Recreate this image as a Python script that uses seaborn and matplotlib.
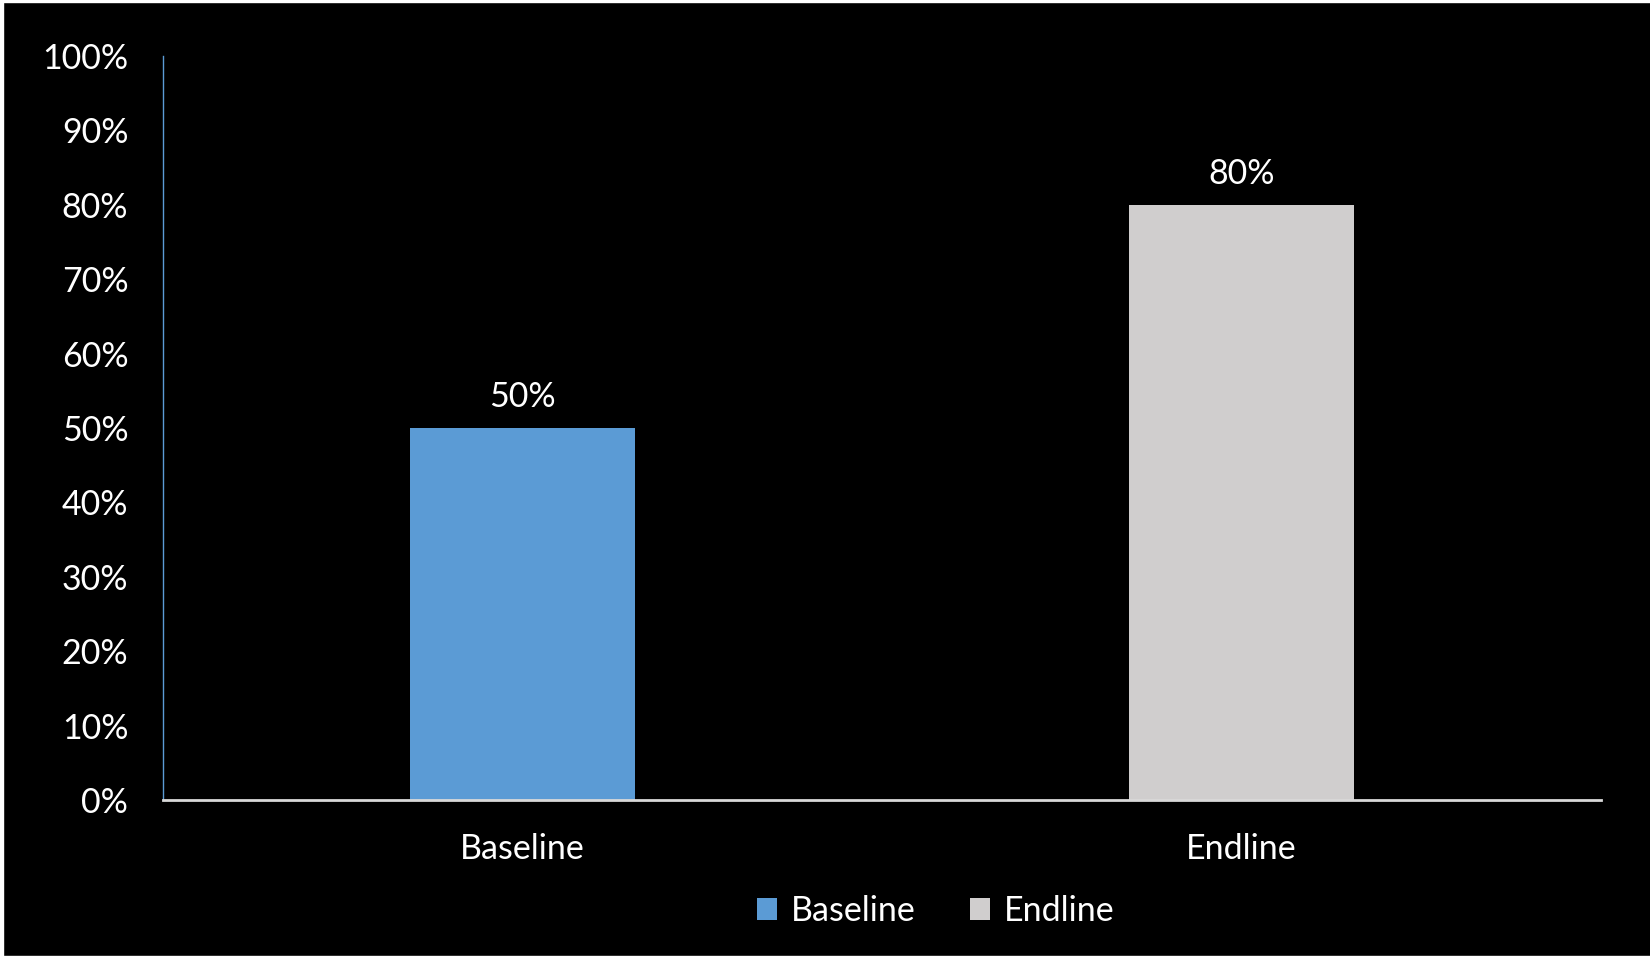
import matplotlib
matplotlib.use('Agg')
import matplotlib.pyplot as plt
import seaborn as sns
import pandas as pd
from matplotlib.patches import Patch, Rectangle
from matplotlib.ticker import PercentFormatter

# data
categories = ['Baseline', 'Endline']
values = [50, 80]
bar_colors = ['#5B9BD5', '#D0CECE']
y_ticks = [0, 10, 20, 30, 40, 50, 60, 70, 80, 90, 100]

df = pd.DataFrame({'kategori': categories, 'nilai': values})

sns.set_style('dark')
plt.rcParams['font.family'] = ['Lato', 'DejaVu Sans']

fig = plt.figure(figsize=(16.5, 9.58), dpi=100)
fig.patch.set_facecolor('black')
ax = fig.add_axes([0.0988, 0.1649, 0.8715, 0.7766])
ax.set_facecolor('black')

sns.barplot(data=df, x='kategori', y='nilai', hue='kategori',
            palette=bar_colors, width=0.314, legend=False, ax=ax,
            saturation=1, edgecolor='none', linewidth=0)

ax.set_ylim(0, 100)
ax.set_yticks(y_ticks)
ax.yaxis.set_major_formatter(PercentFormatter(decimals=0))
ax.set_xlabel('')
ax.set_ylabel('')
ax.grid(False)
ax.tick_params(axis='y', length=0, pad=25, labelsize=24.5, labelcolor='white')
ax.tick_params(axis='x', length=0, pad=24, labelsize=24.5, labelcolor='white')

for s in ['top', 'right']:
    ax.spines[s].set_visible(False)
ax.spines['left'].set_color('#5B9BD5')
ax.spines['left'].set_linewidth(1)
ax.spines['bottom'].set_color('#D9D9D9')
ax.spines['bottom'].set_linewidth(2)

# label angka di atas batang
for p in ax.patches:
    h = p.get_height()
    ax.annotate(f'{h:.0f}%', (p.get_x() + p.get_width() / 2, h),
                xytext=(0, 11), textcoords='offset points',
                ha='center', va='bottom', fontsize=24.5, color='white')

handles = [Patch(facecolor=c, edgecolor='none', label=l) for c, l in zip(bar_colors, categories)]
leg = fig.legend(handles=handles, loc='center', bbox_to_anchor=(0.567, 0.049),
                 ncol=2, frameon=False, fontsize=24.5, labelcolor='white',
                 handlelength=0.6, handleheight=0.6, handletextpad=0.4,
                 columnspacing=1.6)

# garis tepi putih tipis
fig.add_artist(Rectangle((0, 0), 0.002, 1, transform=fig.transFigure, color='white', zorder=10))
fig.add_artist(Rectangle((0, 0.998), 1, 0.002, transform=fig.transFigure, color='white', zorder=10))
fig.add_artist(Rectangle((0, 0), 1, 0.002, transform=fig.transFigure, color='white', zorder=10))

fig.savefig('out.png', dpi=100, facecolor=fig.get_facecolor())
